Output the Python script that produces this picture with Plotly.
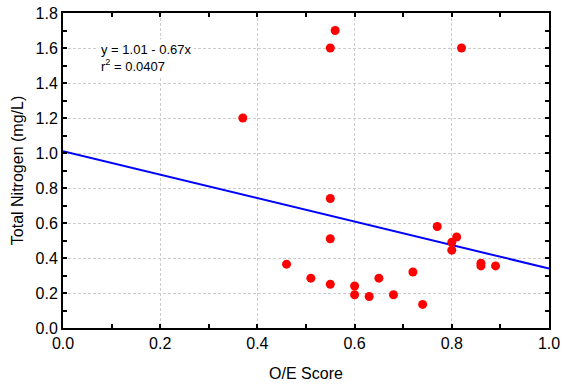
import plotly.graph_objects as go

# O/E score vs. total nitrogen at each site
oe_score = [0.37, 0.56, 0.55, 0.82, 0.55, 0.55, 0.46, 0.51, 0.55, 0.60, 0.60,
            0.63, 0.65, 0.68, 0.72, 0.74, 0.77, 0.80, 0.80, 0.81, 0.86, 0.86, 0.89]
total_n = [1.20, 1.70, 1.60, 1.60, 0.74, 0.51, 0.365, 0.285, 0.25, 0.24, 0.19,
           0.18, 0.285, 0.19, 0.32, 0.135, 0.58, 0.49, 0.445, 0.52, 0.37, 0.355, 0.355]

# least-squares fit reported on the chart
intercept = 1.01
slope = -0.67
r_squared = 0.0407
fit_x = [0.0, 1.0]
fit_y = [intercept + slope * v for v in fit_x]

x_ticks = [0.0, 0.2, 0.4, 0.6, 0.8, 1.0]
y_ticks = [0.0, 0.2, 0.4, 0.6, 0.8, 1.0, 1.2, 1.4, 1.6, 1.8]

font_family = "Liberation Sans, Arial, sans-serif"

fig = go.Figure()
fig.add_trace(go.Scatter(
    x=fit_x, y=fit_y, mode="lines",
    line=dict(color="#0000ff", width=2), showlegend=False, hoverinfo="skip"))
fig.add_trace(go.Scatter(
    x=oe_score, y=total_n, mode="markers",
    marker=dict(color="#ff0000", size=9, line=dict(width=0)), showlegend=False))

fig.add_annotation(
    x=0.072, y=1.65, xref="x", yref="y", xanchor="left", yanchor="top",
    align="left", showarrow=False, bgcolor="white", borderpad=2,
    text=f"y = {intercept:.2f} - {abs(slope):.2f}x<br>r<sup>2</sup> = {r_squared}",
    font=dict(family=font_family, size=13, color="black"))

axis_common = dict(
    showline=True, linecolor="black", linewidth=2, mirror="allticks",
    ticks="inside", ticklen=4, tickwidth=1.5, tickcolor="black",
    showgrid=True, gridcolor="#cccccc", gridwidth=1, griddash="3px,2px",
    zeroline=False, automargin=False,
    tickfont=dict(family=font_family, size=16, color="black"),
    minor=dict(ticks="inside", ticklen=4, tickwidth=1.5, tickcolor="black", showgrid=False),
)

fig.update_xaxes(
    range=[0, 1.0], tickvals=x_ticks, ticktext=[f"{v:.1f}" for v in x_ticks],
    minor_dtick=0.1,
    title=dict(text="O/E Score", font=dict(family=font_family, size=16, color="black"), standoff=17),
    **axis_common)
fig.update_yaxes(
    range=[0, 1.8], tickvals=y_ticks, ticktext=[f"{v:.1f}" for v in y_ticks],
    minor_dtick=0.1,
    title=dict(text="Total Nitrogen (mg/L)", font=dict(family=font_family, size=16, color="black"), standoff=8),
    **axis_common)

fig.update_layout(
    width=563, height=385,
    margin=dict(l=63, r=14, t=13, b=57),
    paper_bgcolor="white", plot_bgcolor="white",
    font=dict(family=font_family, color="black"),
)

fig.write_html("out.html")
